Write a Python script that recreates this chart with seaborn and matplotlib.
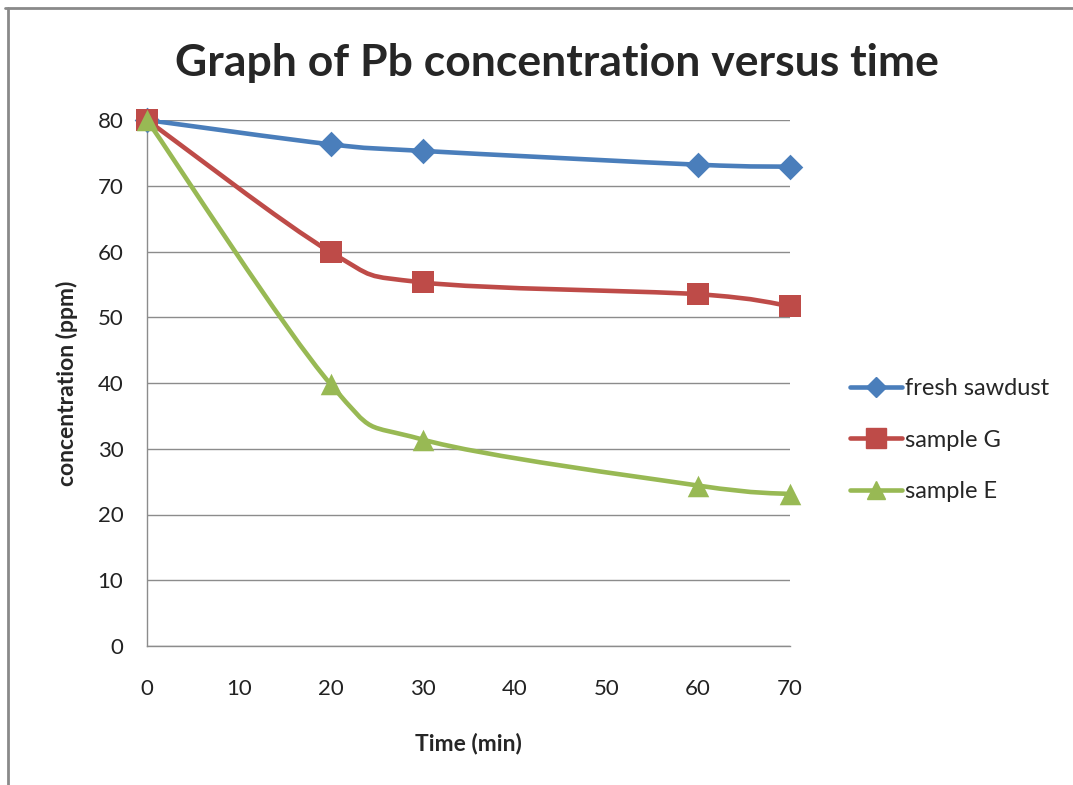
import numpy as np
import pandas as pd
import matplotlib
matplotlib.use("Agg")
import matplotlib.pyplot as plt
from matplotlib.path import Path
from matplotlib.patches import PathPatch
from matplotlib.lines import Line2D
import seaborn as sns

time_min = [0, 20, 30, 60, 70]
fresh_sawdust = [80, 76.3, 75.3, 73.2, 72.9]
sample_G = [80, 59.9, 55.3, 53.5, 51.7]
sample_E = [80, 39.8, 31.4, 24.4, 23.1]
series_names = ["fresh sawdust", "sample G", "sample E"]
colors = ["#4A7EBB", "#BE4B48", "#98B954"]
markers = ["D", "s", "^"]
x_ticks = [0, 10, 20, 30, 40, 50, 60, 70]
y_ticks = [0, 10, 20, 30, 40, 50, 60, 70, 80]

rows = []
for name, vals in zip(series_names, [fresh_sawdust, sample_G, sample_E]):
    for t, v in zip(time_min, vals):
        rows.append({"time": t, "conc": v, "series": name})
df = pd.DataFrame(rows)

sns.set_theme(style="white")
plt.rcParams["font.family"] = ["Lato", "DejaVu Sans"]

fig = plt.figure(figsize=(10.73, 7.85), dpi=100)
ax = fig.add_axes([147 / 1073, 1 - 646 / 785, 643 / 1073, 526 / 785])

def smooth_path(xs, ys):
    pts = np.column_stack([xs, ys]).astype(float)
    n = len(pts)
    verts = [pts[0]]
    codes = [Path.MOVETO]
    for i in range(n - 1):
        p0 = pts[i - 1] if i > 0 else pts[i]
        p1 = pts[i]
        p2 = pts[i + 1]
        p3 = pts[i + 2] if i + 2 < n else pts[i + 1]
        c1 = p1 + (p2 - p0) / 6.0
        c2 = p2 - (p3 - p1) / 6.0
        verts += [c1, c2, p2]
        codes += [Path.CURVE4] * 3
    return Path(verts, codes)

for name, col in zip(series_names, colors):
    sub = df[df["series"] == name]
    patch = PathPatch(smooth_path(sub["time"].values, sub["conc"].values),
                      facecolor="none", edgecolor=col, lw=3.3,
                      capstyle="round", joinstyle="round", zorder=3)
    ax.add_patch(patch)

sizes = {"fresh sawdust": 170, "sample G": 260, "sample E": 240}
for name, col, mk in zip(series_names, colors, markers):
    sub = df[df["series"] == name]
    sns.scatterplot(data=sub, x="time", y="conc", ax=ax, color=col, marker=mk,
                    s=sizes[name], edgecolor=col, linewidth=0, zorder=4,
                    legend=False, clip_on=False)

ax.set_xlim(0, 70)
ax.set_ylim(0, 80)
ax.set_xticks(x_ticks)
ax.set_yticks(y_ticks)
ax.tick_params(axis="both", length=0, labelsize=16, colors="#222222")
ax.tick_params(axis="x", pad=24)
ax.tick_params(axis="y", pad=17)
ax.grid(axis="y", color="#8C8C8C", lw=1.0)
ax.grid(axis="x", visible=False)
ax.set_axisbelow(True)
for s in ["top", "right"]:
    ax.spines[s].set_visible(False)
for s in ["left", "bottom"]:
    ax.spines[s].set_color("#8C8C8C")
    ax.spines[s].set_linewidth(1.0)

ax.set_xlabel("Time (min)", fontsize=16.5, fontweight="bold", labelpad=24)
ax.set_ylabel("concentration (ppm)", fontsize=16.5, fontweight="bold", labelpad=14)

fig.text(557 / 1073, 1 - 63 / 785, "Graph of Pb concentration versus time",
         ha="center", va="center", fontsize=32, fontweight="bold")

handles = [Line2D([0], [0], color=c, lw=3.3, marker=m, markersize=ms,
                  markerfacecolor=c, markeredgecolor=c)
           for c, m, ms in zip(colors, markers, [10, 14, 13])]
fig.legend(handles, series_names, loc="center left",
           bbox_to_anchor=(841 / 1073, 1 - 440 / 785), frameon=False,
           fontsize=17, handlelength=2.2, handletextpad=0.1, labelspacing=1.3,
           borderaxespad=0)

# outer chart border (top and left edges visible)
fig.add_artist(Line2D([5 / 1073, 1], [1 - 8 / 785, 1 - 8 / 785],
                      transform=fig.transFigure, color="#8A8A8A", lw=2.0))
fig.add_artist(Line2D([8 / 1073, 8 / 1073], [0, 1 - 8 / 785],
                      transform=fig.transFigure, color="#8A8A8A", lw=2.0))

fig.savefig("out.png", dpi=100)
